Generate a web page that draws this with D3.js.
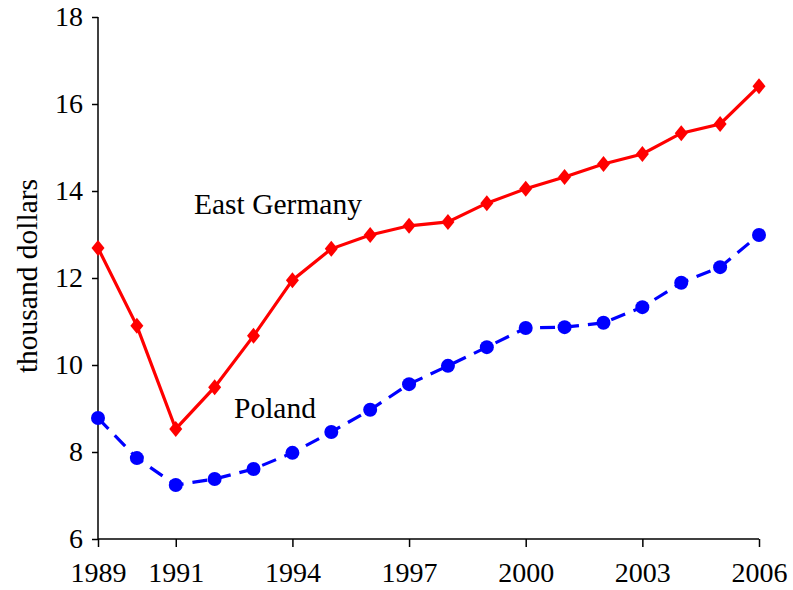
<!DOCTYPE html>
<html><head><meta charset="utf-8">
<script src="https://cdn.jsdelivr.net/npm/d3@7"></script>
<style>body{margin:0;background:#fff}svg{display:block}</style>
</head><body>
<script>
const years = d3.range(1989, 2007);
const eastGermany = [12.69,10.90,8.53,9.49,10.67,11.95,12.67,12.99,13.20,13.29,13.72,14.05,14.32,14.62,14.85,15.33,15.54,16.41];
const poland = [8.78,7.86,7.24,7.38,7.61,7.98,8.46,8.97,9.56,9.98,10.41,10.85,10.87,10.97,11.33,11.89,12.25,12.99];
const xTicks = [1989,1991,1994,1997,2000,2003,2006];
const yTicks = [6,8,10,12,14,16,18];

const W=793,H=590;
const svg=d3.select("body").append("svg").attr("width",W).attr("height",H);
const x=d3.scaleLinear().domain([1989,2006]).range([98,759]);
const y=d3.scaleLinear().domain([6,18]).range([539,17]);
const font="'Liberation Serif','Times New Roman',serif";

const yAxis=svg.append("g").attr("transform","translate(98,0)")
  .call(d3.axisLeft(y).tickValues(yTicks).tickSize(6).tickPadding(9).tickFormat(d3.format("d")));
const xAxis=svg.append("g").attr("transform","translate(0,539)")
  .call(d3.axisBottom(x).tickValues(xTicks).tickSize(8).tickPadding(15).tickFormat(d3.format("d")));
[yAxis,xAxis].forEach(g=>{
  g.select(".domain").attr("stroke","#000").attr("stroke-width",1.5);
  g.selectAll(".tick line").attr("stroke","#000").attr("stroke-width",1.5);
  g.selectAll("text").attr("font-family",font).attr("fill","#000").attr("font-size",28);
});
yAxis.select(".domain").attr("d","M0,17V539");
xAxis.select(".domain").attr("d","M98,0H759");

svg.append("text").attr("transform","translate(37,276) rotate(-90)")
  .attr("text-anchor","middle").attr("font-family",font).attr("font-size",29.5).text("thousand dollars");

const line=d3.line().x((d,i)=>x(years[i])).y(d=>y(d));
svg.append("path").datum(poland).attr("d",line).attr("fill","none")
  .attr("stroke","#0000ff").attr("stroke-width",3.2).attr("stroke-dasharray","15,9");
svg.append("g").selectAll("circle").data(poland).join("circle")
  .attr("cx",(d,i)=>x(years[i])).attr("cy",d=>y(d)).attr("r",7).attr("fill","#0000ff");

svg.append("path").datum(eastGermany).attr("d",line).attr("fill","none")
  .attr("stroke","#ff0000").attr("stroke-width",3.2);
svg.append("g").selectAll("path").data(eastGermany).join("path")
  .attr("transform",(d,i)=>`translate(${x(years[i])},${y(d)})`)
  .attr("d","M0,-8L6.5,0L0,8L-6.5,0Z").attr("fill","#ff0000");

svg.append("text").attr("x",194).attr("y",214).attr("font-family",font).attr("font-size",29.5).text("East Germany");
svg.append("text").attr("x",234).attr("y",418).attr("font-family",font).attr("font-size",29.5).text("Poland");
</script>
</body></html>
